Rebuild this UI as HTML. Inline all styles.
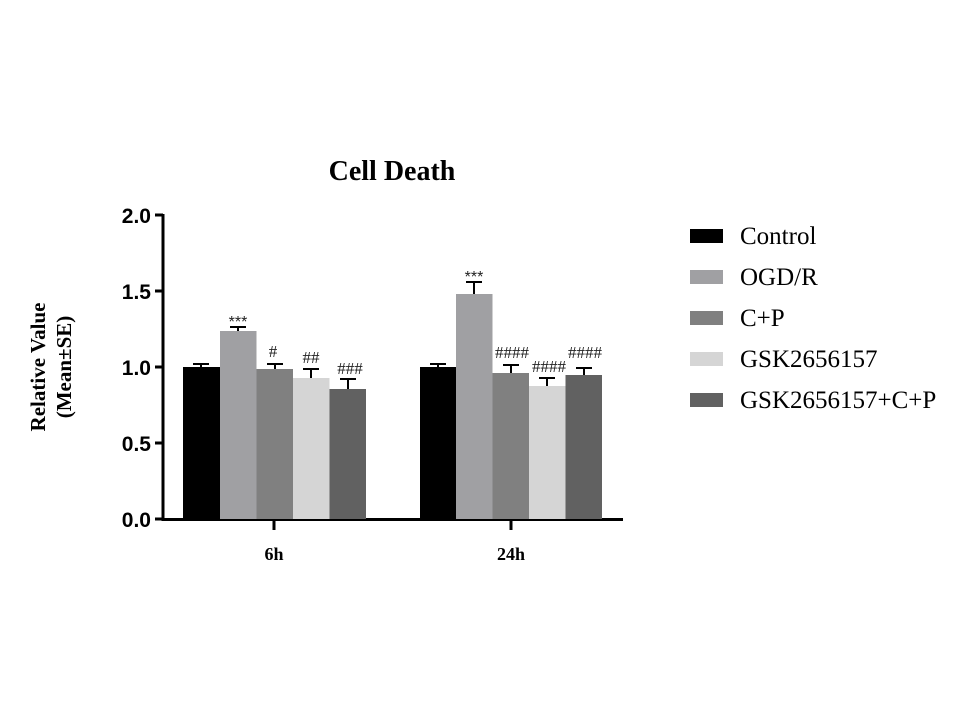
<!DOCTYPE html>
<html><head><style>body{margin:0;background:#fff}</style></head><body>
<svg width="960" height="720" xmlns="http://www.w3.org/2000/svg">
<rect width="960" height="720" fill="#fff"/>
<text x="392" y="180" font-family="Liberation Serif, serif" font-weight="bold" font-size="28" text-anchor="middle">Cell Death</text>
<g font-family="Liberation Serif, serif" font-weight="bold" font-size="21" text-anchor="middle">
<text transform="translate(45,367) rotate(-90)">Relative Value</text>
<text transform="translate(71,367) rotate(-90)">(Mean±SE)</text>
</g>
<g fill="none" stroke="#000" stroke-width="3">
<line x1="163" y1="214" x2="163" y2="521"/>
<line x1="162" y1="519.5" x2="623" y2="519.5"/>
<line x1="155" y1="215" x2="163" y2="215"/>
<line x1="155" y1="291" x2="163" y2="291"/>
<line x1="155" y1="367" x2="163" y2="367"/>
<line x1="155" y1="443" x2="163" y2="443"/>
<line x1="155" y1="519" x2="163" y2="519"/>
<line x1="274" y1="519" x2="274" y2="530"/>
<line x1="511" y1="519" x2="511" y2="530"/>
</g>
<g font-family="Liberation Sans, sans-serif" font-weight="bold" font-size="21" text-anchor="end">
<text x="151" y="223">2.0</text><text x="151" y="299">1.5</text><text x="151" y="375">1.0</text><text x="151" y="451">0.5</text><text x="151" y="527">0.0</text>
</g>
<g font-family="Liberation Serif, serif" font-weight="bold" font-size="18" text-anchor="middle">
<text x="274" y="560">6h</text><text x="511" y="560">24h</text>
</g>
<g>
<rect x="183" y="367" width="37" height="152" fill="#000"/>
<rect x="220" y="331" width="36.5" height="188" fill="#a0a0a3"/>
<rect x="256.5" y="369" width="36.5" height="150" fill="#808080"/>
<rect x="293" y="378" width="36.5" height="141" fill="#d5d5d5"/>
<rect x="329.5" y="389" width="36.5" height="130" fill="#616161"/>
<rect x="420" y="367" width="36" height="152" fill="#000"/>
<rect x="456" y="294" width="36.5" height="225" fill="#a0a0a3"/>
<rect x="492.5" y="373" width="36.5" height="146" fill="#808080"/>
<rect x="529" y="386" width="36.5" height="133" fill="#d5d5d5"/>
<rect x="565.5" y="375" width="36.5" height="144" fill="#616161"/>
</g>
<g stroke="#000" stroke-width="2" fill="none">
<path d="M201 367V364M193 364H209"/>
<path d="M238 331V327M230 327H246"/>
<path d="M275 369V364M267 364H283"/>
<path d="M311 378V369M303 369H319"/>
<path d="M348 389V379M340 379H356"/>
<path d="M438 367V364M430 364H446"/>
<path d="M474 294V282M466 282H482"/>
<path d="M511 373V365M503 365H519"/>
<path d="M547 386V378M539 378H555"/>
<path d="M584 375V368M576 368H592"/>
</g>
<g font-family="Liberation Sans, sans-serif" font-size="16" text-anchor="middle" fill="#222">
<text x="238" y="327">***</text>
<text x="474" y="282">***</text>
</g>
<g font-family="Liberation Serif, serif" font-size="17" text-anchor="middle" fill="#222">
<text x="273" y="357">#</text>
<text x="311" y="363">##</text>
<text x="350" y="374">###</text>
<text x="512" y="358">####</text>
<text x="549" y="372">####</text>
<text x="585" y="358">####</text>
</g>
<g>
<rect x="690" y="229" width="33" height="14" fill="#000"/>
<rect x="690" y="270" width="33" height="14" fill="#a0a0a3"/>
<rect x="690" y="311" width="33" height="14" fill="#808080"/>
<rect x="690" y="352" width="33" height="14" fill="#d5d5d5"/>
<rect x="690" y="393" width="33" height="14" fill="#616161"/>
</g>
<g font-family="Liberation Serif, serif" font-size="25" fill="#000">
<text x="740" y="244">Control</text>
<text x="740" y="285">OGD/R</text>
<text x="740" y="326">C+P</text>
<text x="740" y="367">GSK2656157</text>
<text x="740" y="408">GSK2656157+C+P</text>
</g>
</svg>
</body></html>
